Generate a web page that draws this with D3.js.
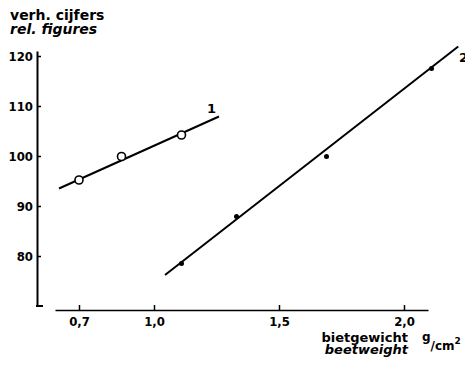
<!DOCTYPE html>
<html>
<head>
<meta charset="utf-8">
<script src="https://cdn.jsdelivr.net/npm/d3@7"></script>
<style>
  body { margin: 0; background: #fff; }
  svg { display: block; }
  text { font-family: "DejaVu Sans", sans-serif; font-weight: bold; fill: #000; }
  .tick text { font-family: "DejaVu Sans Condensed", "DejaVu Sans", sans-serif; font-size: 13px; }
</style>
</head>
<body>
<svg width="465" height="367"></svg>
<script>
// series 1: open circles
var s1x = [0.70, 0.87, 1.11];
var s1y = [95.2, 99.9, 104.2];
var fit1 = [[0.62, 93.5], [1.26, 107.9]];

// series 2: filled dots
var s2x = [1.11, 1.33, 1.69, 2.11];
var s2y = [78.5, 87.9, 99.9, 117.5];
var fit2 = [[1.044, 76.2], [2.217, 121.9]];

var xTicks = [0.7, 1.0, 1.5, 2.0];
var xTickLabels = ["0,7", "1,0", "1,5", "2,0"];
var yTicks = [80, 90, 100, 110, 120];

var svg = d3.select('svg');

var x = d3.scaleLinear().domain([0.604, 2.096]).range([55, 428]);
var y = d3.scaleLinear().domain([70, 121]).range([306, 51]);

// y axis
var yAxis = svg.append('g')
	.attr('transform', 'translate(37,0)')
	.call(d3.axisLeft(y).tickValues(yTicks).tickSizeInner(-4).tickSizeOuter(0).tickPadding(4));
yAxis.select('.domain').attr('stroke-width', 2);
yAxis.selectAll('.tick line').attr('stroke-width', 1.5);
svg.append('line')
	.attr('x1', 36).attr('x2', 43)
	.attr('y1', y(70)).attr('y2', y(70))
	.attr('stroke', '#000').attr('stroke-width', 2);

// x axis
var xAxis = svg.append('g')
	.attr('transform', 'translate(0,310)')
	.call(d3.axisBottom(x).tickValues(xTicks)
		.tickFormat(function(d, i) { return xTickLabels[i]; })
		.tickSizeInner(-5).tickSizeOuter(0).tickPadding(7));
xAxis.select('.domain').attr('stroke-width', 1.5);
xAxis.selectAll('.tick line').attr('stroke-width', 1.5);

// fitted lines
var line = d3.line()
	.x(function(d) { return x(d[0]); })
	.y(function(d) { return y(d[1]); });

svg.append('path').datum(fit1).attr('d', line)
	.attr('fill', 'none').attr('stroke', '#000').attr('stroke-width', 2);
svg.append('path').datum(fit2).attr('d', line)
	.attr('fill', 'none').attr('stroke', '#000').attr('stroke-width', 2);

// points
svg.selectAll('circle.s1')
	.data(s1x)
	.enter()
	.append('circle')
	.attr('class', 's1')
	.attr('cx', function(d) { return x(d); })
	.attr('cy', function(d, i) { return y(s1y[i]); })
	.attr('r', 4)
	.attr('fill', '#fff')
	.attr('stroke', '#000')
	.attr('stroke-width', 1.6);

svg.selectAll('circle.s2')
	.data(s2x)
	.enter()
	.append('circle')
	.attr('class', 's2')
	.attr('cx', function(d) { return x(d); })
	.attr('cy', function(d, i) { return y(s2y[i]); })
	.attr('r', 2.5)
	.attr('fill', '#000');

// series labels
svg.append('text').attr('x', 207).attr('y', 113).style('font-size', '13px').text('1');
svg.append('text').attr('x', 459).attr('y', 62).style('font-size', '13px').text('2');

// y title
svg.append('text').attr('x', 10).attr('y', 20).style('font-size', '14px').text('verh. cijfers');
svg.append('text').attr('x', 10).attr('y', 34).style('font-size', '14px').style('font-style', 'italic').text('rel. figures');

// x title
svg.append('text').attr('x', 408).attr('y', 342).attr('text-anchor', 'end').style('font-size', '13px').text('bietgewicht');
svg.append('text').attr('x', 408).attr('y', 354).attr('text-anchor', 'end').style('font-size', '13px').style('font-style', 'italic').text('beetweight');

var unit = svg.append('text').attr('x', 422).attr('y', 341).style('font-size', '12px');
unit.append('tspan').text('g');
unit.append('tspan').attr('dy', 9).text('/cm');
unit.append('tspan').attr('dy', -6).style('font-size', '9px').text('2');
</script>
</body>
</html>
